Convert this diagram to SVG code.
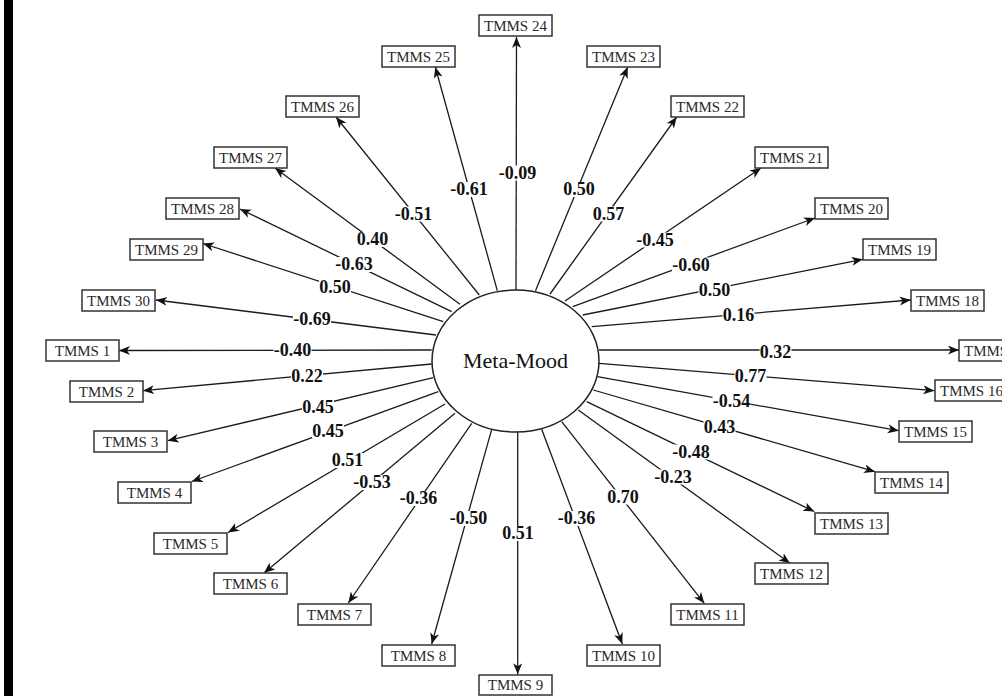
<svg xmlns="http://www.w3.org/2000/svg" width="1002" height="696" viewBox="0 0 1002 696">
<style>
.box{fill:#fff;stroke:#333;stroke-width:1.5}
.nt{font-family:"Liberation Serif","Times New Roman",serif;font-size:15px;fill:#2a2a2a;text-anchor:middle}
.ln{stroke:#1a1a1a;stroke-width:1.3;fill:none;marker-end:url(#ah)}
.lb{font-family:"Liberation Serif","Times New Roman",serif;font-size:18px;font-weight:bold;fill:#111;text-anchor:middle}
.bg{fill:#fff}
</style>
<defs>
<marker id="ah" markerUnits="userSpaceOnUse" markerWidth="12" markerHeight="10" refX="11" refY="4.5" orient="auto">
<path d="M0,0 L11,4.5 L0,9 L3,4.5 z" fill="#111"/>
</marker>
</defs>
<rect x="0" y="0" width="1002" height="696" fill="#fff"/>
<rect x="4" y="0" width="9" height="696" fill="#000"/>
<g id="connectors">
<line class="ln" x1="516" y1="290" x2="516.5" y2="37"/>
<line class="ln" x1="497.3" y1="290.7" x2="435.3" y2="67"/>
<line class="ln" x1="479.3" y1="295" x2="336" y2="117"/>
<line class="ln" x1="460" y1="304.3" x2="275" y2="168"/>
<line class="ln" x1="451.7" y1="311.7" x2="240" y2="209"/>
<line class="ln" x1="443.3" y1="321.7" x2="203" y2="243.5"/>
<line class="ln" x1="436" y1="335" x2="156" y2="300"/>
<line class="ln" x1="431.7" y1="350" x2="119" y2="350.5"/>
<line class="ln" x1="431.7" y1="364" x2="143" y2="390.7"/>
<line class="ln" x1="433.3" y1="377.7" x2="167.7" y2="440.7"/>
<line class="ln" x1="438.3" y1="391.7" x2="191.7" y2="481.5"/>
<line class="ln" x1="445" y1="404" x2="228" y2="532.5"/>
<line class="ln" x1="455" y1="413.3" x2="264" y2="573"/>
<line class="ln" x1="471.7" y1="423.3" x2="348.3" y2="603"/>
<line class="ln" x1="491.7" y1="429.3" x2="431.7" y2="644"/>
<line class="ln" x1="517.7" y1="431.7" x2="517.7" y2="674.3"/>
<line class="ln" x1="541.7" y1="429.3" x2="622.3" y2="644"/>
<line class="ln" x1="561.7" y1="421.7" x2="704.3" y2="603.3"/>
<line class="ln" x1="578.3" y1="410" x2="790" y2="563.3"/>
<line class="ln" x1="586.7" y1="401.7" x2="814.3" y2="511.5"/>
<line class="ln" x1="593.3" y1="390" x2="875" y2="471.7"/>
<line class="ln" x1="597.3" y1="376.7" x2="898.7" y2="430.7"/>
<line class="ln" x1="599" y1="363.3" x2="934.3" y2="390.7"/>
<line class="ln" x1="599" y1="350" x2="959" y2="350"/>
<line class="ln" x1="591.7" y1="326.7" x2="910.7" y2="300"/>
<line class="ln" x1="582.7" y1="315" x2="862.7" y2="259.3"/>
<line class="ln" x1="572.7" y1="306.7" x2="815" y2="218"/>
<line class="ln" x1="565" y1="301" x2="761" y2="168"/>
<line class="ln" x1="550" y1="294" x2="676.7" y2="117"/>
<line class="ln" x1="535.5" y1="290.7" x2="627.7" y2="67"/>
<g id="labels">
<rect class="bg" x="498.5" y="165.5" width="38" height="15"/><text class="lb" x="517.5" y="178.5">-0.09</text>
<rect class="bg" x="450" y="182" width="38" height="15"/><text class="lb" x="469" y="195">-0.61</text>
<rect class="bg" x="563" y="182" width="32" height="15"/><text class="lb" x="579" y="195">0.50</text>
<rect class="bg" x="394.5" y="206.5" width="38" height="15"/><text class="lb" x="413.5" y="219.5">-0.51</text>
<rect class="bg" x="592.5" y="206.5" width="32" height="15"/><text class="lb" x="608.5" y="219.5">0.57</text>
<rect class="bg" x="356.5" y="232" width="32" height="15"/><text class="lb" x="372.5" y="245">0.40</text>
<rect class="bg" x="636" y="232.5" width="38" height="15"/><text class="lb" x="655" y="245.5">-0.45</text>
<rect class="bg" x="335" y="257" width="38" height="15"/><text class="lb" x="354" y="270">-0.63</text>
<rect class="bg" x="672" y="257.5" width="38" height="15"/><text class="lb" x="691" y="270.5">-0.60</text>
<rect class="bg" x="319" y="280" width="32" height="15"/><text class="lb" x="335" y="293">0.50</text>
<rect class="bg" x="698.5" y="282.5" width="32" height="15"/><text class="lb" x="714.5" y="295.5">0.50</text>
<rect class="bg" x="293" y="312" width="38" height="15"/><text class="lb" x="312" y="325">-0.69</text>
<rect class="bg" x="722.5" y="308" width="32" height="15"/><text class="lb" x="738.5" y="321">0.16</text>
<rect class="bg" x="273.5" y="343" width="38" height="15"/><text class="lb" x="292.5" y="356">-0.40</text>
<rect class="bg" x="759.5" y="345" width="32" height="15"/><text class="lb" x="775.5" y="358">0.32</text>
<rect class="bg" x="291" y="368.5" width="32" height="15"/><text class="lb" x="307" y="381.5">0.22</text>
<rect class="bg" x="734.5" y="368.5" width="32" height="15"/><text class="lb" x="750.5" y="381.5">0.77</text>
<rect class="bg" x="302" y="399.5" width="32" height="15"/><text class="lb" x="318" y="412.5">0.45</text>
<rect class="bg" x="712.5" y="393.5" width="38" height="15"/><text class="lb" x="731.5" y="406.5">-0.54</text>
<rect class="bg" x="312" y="423.5" width="32" height="15"/><text class="lb" x="328" y="436.5">0.45</text>
<rect class="bg" x="703.5" y="419.5" width="32" height="15"/><text class="lb" x="719.5" y="432.5">0.43</text>
<rect class="bg" x="331.5" y="453" width="32" height="15"/><text class="lb" x="347.5" y="466">0.51</text>
<rect class="bg" x="672" y="444.5" width="38" height="15"/><text class="lb" x="691" y="457.5">-0.48</text>
<rect class="bg" x="353" y="475" width="38" height="15"/><text class="lb" x="372" y="488">-0.53</text>
<rect class="bg" x="654" y="469.5" width="38" height="15"/><text class="lb" x="673" y="482.5">-0.23</text>
<rect class="bg" x="399.5" y="491" width="38" height="15"/><text class="lb" x="418.5" y="504">-0.36</text>
<rect class="bg" x="607" y="489.5" width="32" height="15"/><text class="lb" x="623" y="502.5">0.70</text>
<rect class="bg" x="449.5" y="511" width="38" height="15"/><text class="lb" x="468.5" y="524">-0.50</text>
<rect class="bg" x="557.5" y="511" width="38" height="15"/><text class="lb" x="576.5" y="524">-0.36</text>
<rect class="bg" x="502" y="526" width="32" height="15"/><text class="lb" x="518" y="539">0.51</text>
</g>
</g>
<g id="meta-mood">
<ellipse cx="515.5" cy="361" rx="83.5" ry="71" fill="#fff" stroke="#222" stroke-width="1.5"/>
<text x="515.5" y="368" font-family="Liberation Serif, Times New Roman, serif" font-size="22" fill="#111" text-anchor="middle">Meta-Mood</text>
</g>
<g id="tmms24"><rect class="box" x="479" y="15" width="73" height="21"/><text class="nt" x="515.5" y="30.5">TMMS 24</text></g>
<g id="tmms25"><rect class="box" x="382" y="46" width="73" height="21"/><text class="nt" x="418.5" y="61.5">TMMS 25</text></g>
<g id="tmms23"><rect class="box" x="587" y="46" width="73" height="21"/><text class="nt" x="623.5" y="61.5">TMMS 23</text></g>
<g id="tmms26"><rect class="box" x="286" y="96" width="73" height="21"/><text class="nt" x="322.5" y="111.5">TMMS 26</text></g>
<g id="tmms22"><rect class="box" x="671" y="96" width="73" height="21"/><text class="nt" x="707.5" y="111.5">TMMS 22</text></g>
<g id="tmms27"><rect class="box" x="214" y="147" width="73" height="21"/><text class="nt" x="250.5" y="162.5">TMMS 27</text></g>
<g id="tmms21"><rect class="box" x="755" y="147" width="73" height="21"/><text class="nt" x="791.5" y="162.5">TMMS 21</text></g>
<g id="tmms28"><rect class="box" x="166" y="198" width="73" height="21"/><text class="nt" x="202.5" y="213.5">TMMS 28</text></g>
<g id="tmms20"><rect class="box" x="815" y="198" width="73" height="21"/><text class="nt" x="851.5" y="213.5">TMMS 20</text></g>
<g id="tmms29"><rect class="box" x="130" y="239" width="73" height="21"/><text class="nt" x="166.5" y="254.5">TMMS 29</text></g>
<g id="tmms19"><rect class="box" x="863" y="239" width="73" height="21"/><text class="nt" x="899.5" y="254.5">TMMS 19</text></g>
<g id="tmms30"><rect class="box" x="82" y="290" width="73" height="21"/><text class="nt" x="118.5" y="305.5">TMMS 30</text></g>
<g id="tmms18"><rect class="box" x="911" y="290" width="73" height="21"/><text class="nt" x="947.5" y="305.5">TMMS 18</text></g>
<g id="tmms1"><rect class="box" x="46" y="340" width="73" height="21"/><text class="nt" x="82.5" y="355.5">TMMS 1</text></g>
<g id="tmms17"><rect class="box" x="959" y="340" width="73" height="21"/><text class="nt" x="995.5" y="355.5">TMMS 17</text></g>
<g id="tmms2"><rect class="box" x="70" y="381" width="73" height="21"/><text class="nt" x="106.5" y="396.5">TMMS 2</text></g>
<g id="tmms16"><rect class="box" x="935" y="380" width="73" height="21"/><text class="nt" x="971.5" y="395.5">TMMS 16</text></g>
<g id="tmms3"><rect class="box" x="94" y="431" width="73" height="21"/><text class="nt" x="130.5" y="446.5">TMMS 3</text></g>
<g id="tmms15"><rect class="box" x="899" y="421" width="73" height="21"/><text class="nt" x="935.5" y="436.5">TMMS 15</text></g>
<g id="tmms4"><rect class="box" x="118" y="482" width="73" height="21"/><text class="nt" x="154.5" y="497.5">TMMS 4</text></g>
<g id="tmms14"><rect class="box" x="875" y="472" width="73" height="21"/><text class="nt" x="911.5" y="487.5">TMMS 14</text></g>
<g id="tmms5"><rect class="box" x="154" y="533" width="73" height="21"/><text class="nt" x="190.5" y="548.5">TMMS 5</text></g>
<g id="tmms13"><rect class="box" x="815" y="513" width="73" height="21"/><text class="nt" x="851.5" y="528.5">TMMS 13</text></g>
<g id="tmms6"><rect class="box" x="214" y="573" width="73" height="21"/><text class="nt" x="250.5" y="588.5">TMMS 6</text></g>
<g id="tmms12"><rect class="box" x="755" y="563" width="73" height="21"/><text class="nt" x="791.5" y="578.5">TMMS 12</text></g>
<g id="tmms7"><rect class="box" x="298" y="604" width="73" height="21"/><text class="nt" x="334.5" y="619.5">TMMS 7</text></g>
<g id="tmms11"><rect class="box" x="671" y="604" width="73" height="21"/><text class="nt" x="707.5" y="619.5">TMMS 11</text></g>
<g id="tmms8"><rect class="box" x="382" y="645" width="73" height="21"/><text class="nt" x="418.5" y="660.5">TMMS 8</text></g>
<g id="tmms10"><rect class="box" x="587" y="645" width="73" height="21"/><text class="nt" x="623.5" y="660.5">TMMS 10</text></g>
<g id="tmms9"><rect class="box" x="479" y="675" width="73" height="20"/><text class="nt" x="515.5" y="690">TMMS 9</text></g>
</svg>
